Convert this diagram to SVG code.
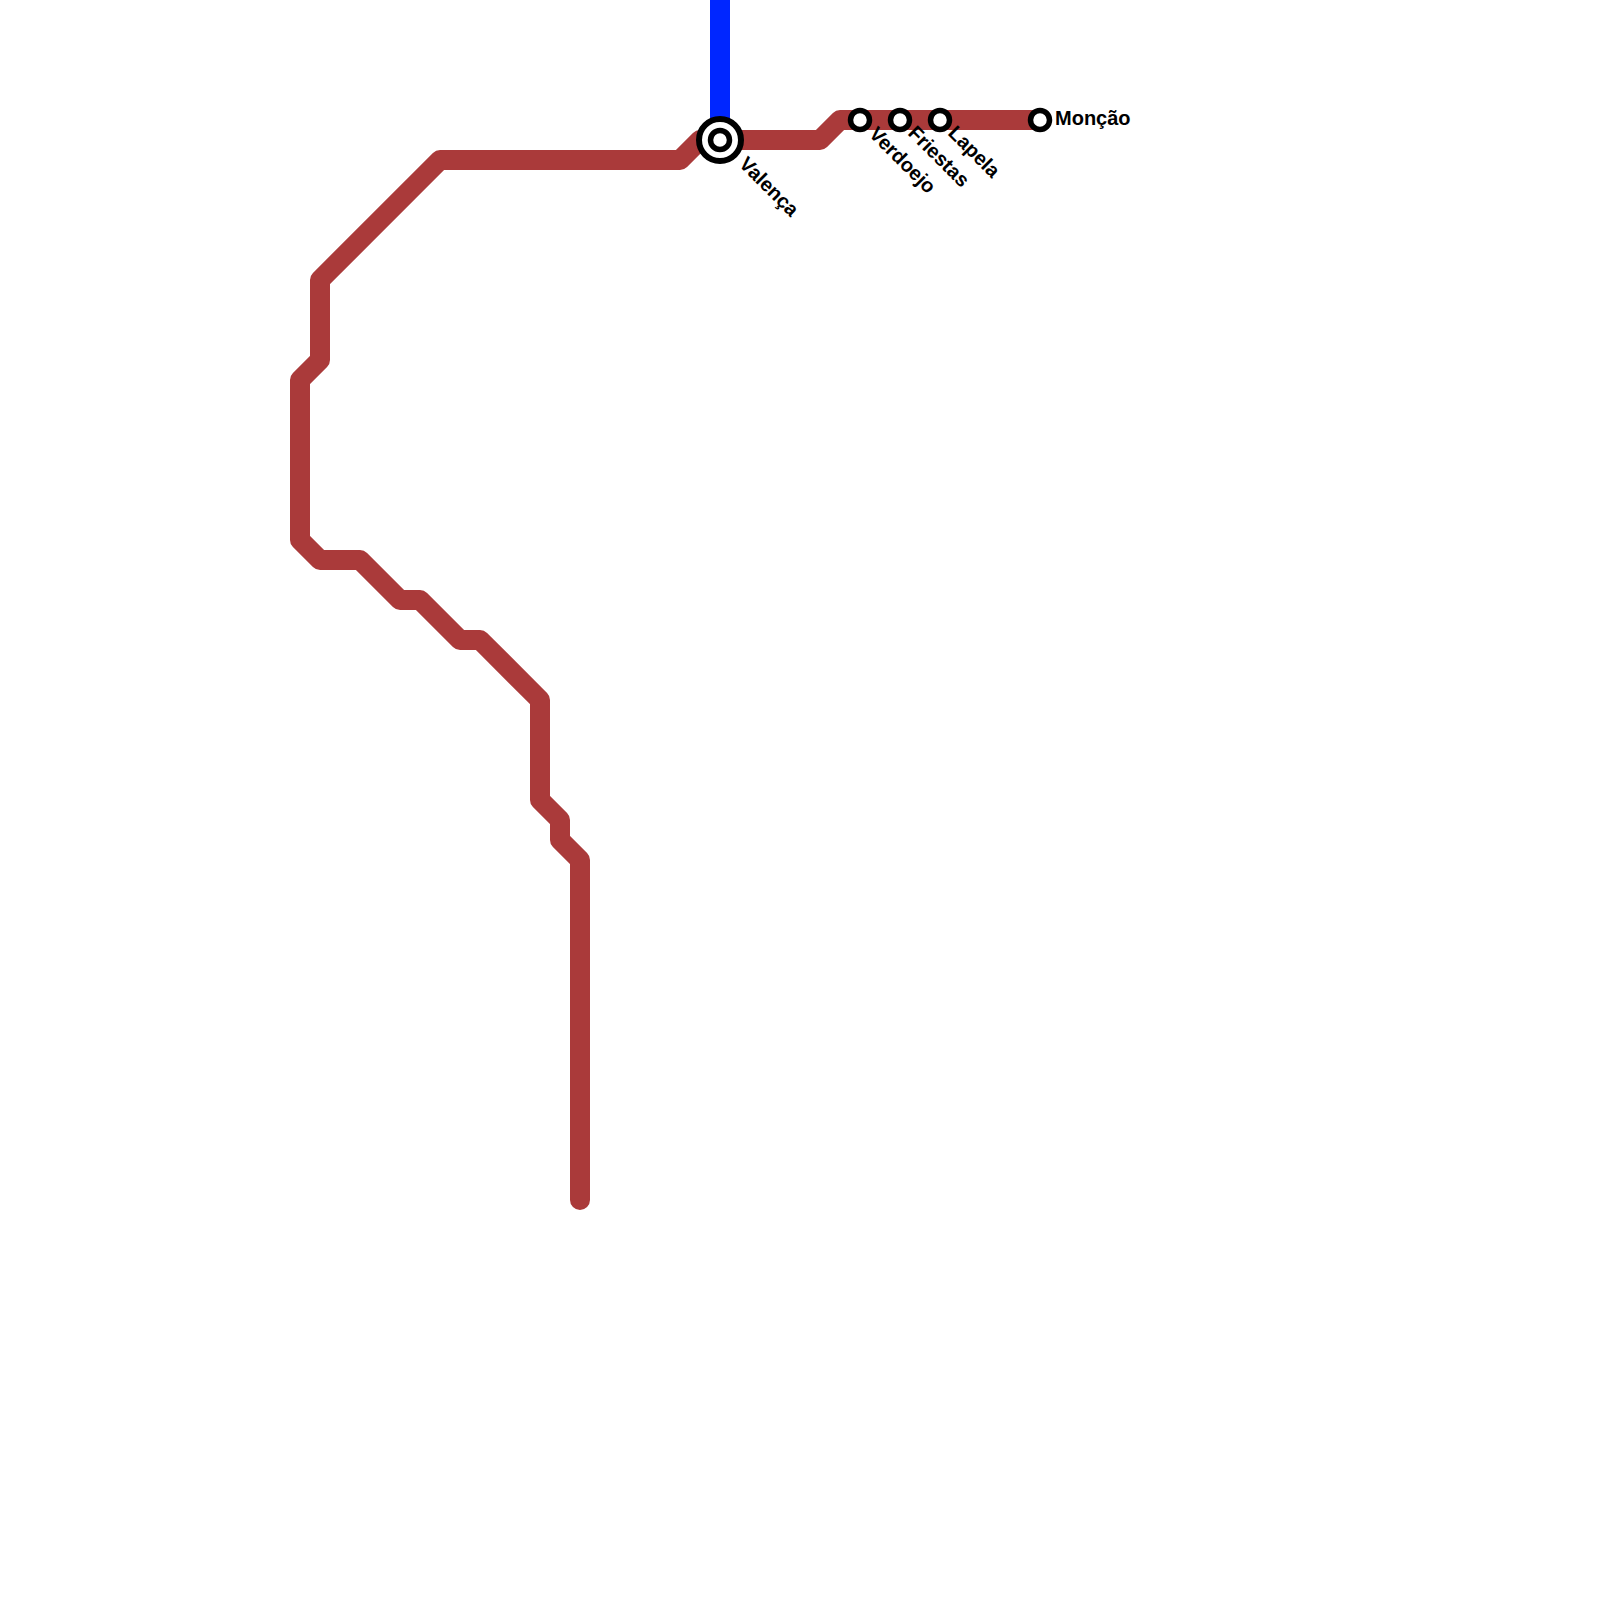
<svg xmlns="http://www.w3.org/2000/svg" width="1600" height="1600" viewBox="0 0 1600 1600">
<style>
.line{fill:none;stroke-width:20;stroke-linejoin:round;stroke-linecap:round}
.st{fill:#fff;stroke:#000;stroke-width:5.5}
.out{fill:#fff;stroke:#000;stroke-width:6}
.lb{font-family:"Liberation Sans",Arial,sans-serif;font-weight:700;font-size:20px;fill:#000}
</style>
<rect width="1600" height="1600" fill="#fff"/>
<g id="connectors">
<path class="line" stroke="#0026ff" d="M720,-20V140"/>
<path class="line" stroke="#aa3a3a" d="M580,1200V860L560,840V820L540,800V700L480,640H460L420,600H400L360,560H320L300,540V380L320,360V280L440,160H680L700,140H820L840,120H1040"/>
</g>
<g id="valenca"><circle class="out" cx="720" cy="140" r="21"/><circle class="st" cx="720" cy="140" r="9.5"/><text class="lb" transform="translate(738,165) rotate(45)">Valença</text></g>
<g id="verdoejo"><circle class="st" cx="860" cy="120" r="9.5"/><text class="lb" transform="translate(868,135) rotate(45)">Verdoejo</text></g>
<g id="friestas"><circle class="st" cx="900" cy="120" r="9.5"/><text class="lb" transform="translate(907,134) rotate(45)">Friestas</text></g>
<g id="lapela"><circle class="st" cx="940" cy="120" r="9.5"/><text class="lb" transform="translate(947,134) rotate(45)">Lapela</text></g>
<g id="moncao"><circle class="st" cx="1040" cy="120" r="9.5"/><text class="lb" x="1055" y="125">Monção</text></g>
</svg>
